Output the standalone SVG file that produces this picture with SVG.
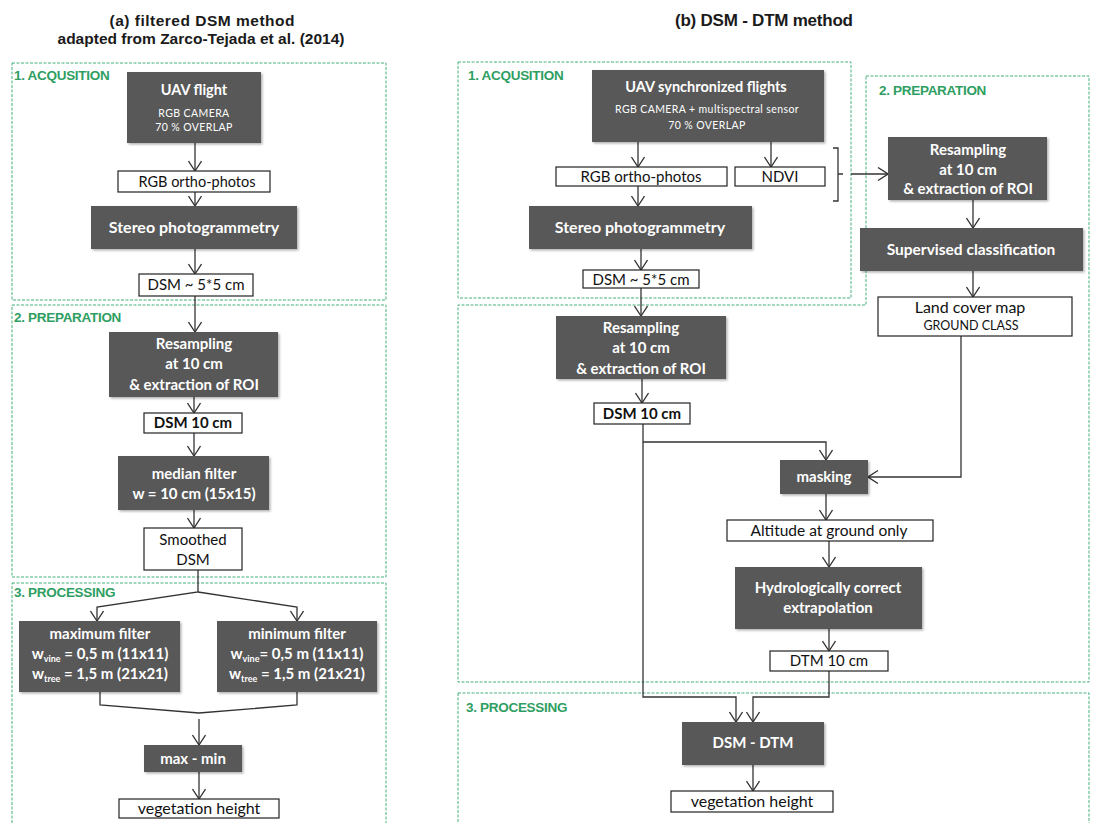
<svg xmlns="http://www.w3.org/2000/svg" width="1093" height="823" viewBox="0 0 1093 823">
  <style>
    .title { font-family: "Liberation Sans", Arial, sans-serif; font-weight: bold; font-size: 15.5px; fill: #1a1a1a; text-anchor: middle; }
    .frame { fill: none; stroke: #47b07c; stroke-width: 1; stroke-dasharray: 3 1.5; }
    .stage { font-family: "Liberation Sans", Arial, sans-serif; font-weight: bold; font-size: 13.5px; fill: #2e9e62; letter-spacing: -0.3px; }
    .dark { fill: #595959; filter: url(#shadow); }
    .light { fill: #ffffff; stroke: #222222; stroke-width: 1.2; }
    .dt { font-family: Lato, "Open Sans", sans-serif; font-weight: bold; font-size: 15px; fill: #ffffff; text-anchor: middle; }
    .ds { font-family: Lato, "Open Sans", sans-serif; font-size: 10.5px; fill: #ffffff; text-anchor: middle; letter-spacing: 0.4px; }
    .lt { font-family: Lato, "Open Sans", sans-serif; font-size: 15px; fill: #111111; text-anchor: middle; }
    .lb { font-family: Lato, "Open Sans", sans-serif; font-weight: bold; font-size: 15px; fill: #111111; text-anchor: middle; }
    .sub { font-size: 9px; }
    .conn { fill: none; stroke: #333333; stroke-width: 1.3; }
    .arr { marker-end: url(#chev); }
  </style>
  <defs>
    <filter id="shadow" x="-10%" y="-10%" width="130%" height="130%">
      <feDropShadow dx="1.5" dy="1.5" stdDeviation="1" flood-color="#000000" flood-opacity="0.3"/>
    </filter>
    <marker id="chev" markerUnits="userSpaceOnUse" viewBox="0 0 12 14" refX="11" refY="7" markerWidth="12" markerHeight="14" orient="auto">
      <path d="M1,0.5 L11,7 L1,13.5" fill="none" stroke="#333333" stroke-width="1.3"/>
    </marker>
  </defs>

  <rect width="1093" height="823" fill="#ffffff"/>

  <!-- headings -->
  <g id="titles">
    <text class="title" x="202" y="26" textLength="185">(a) filtered DSM method</text>
    <text class="title" x="201" y="44" textLength="287">adapted from Zarco-Tejada et al. (2014)</text>
    <text class="title" x="764" y="26" style="font-size:17px" textLength="178">(b) DSM - DTM method</text>
  </g>

  <!-- stage frames -->
  <g id="frames">
    <rect class="frame" x="12" y="63" width="374" height="237"/>
    <rect class="frame" x="12" y="305" width="374" height="272"/>
    <rect class="frame" x="12" y="583" width="374" height="250"/>
    <text class="stage" x="14" y="80">1. ACQUSITION</text>
    <text class="stage" x="14" y="322">2. PREPARATION</text>
    <text class="stage" x="14" y="597">3. PROCESSING</text>

    <rect class="frame" x="458" y="62" width="393" height="236"/>
    <path class="frame" d="M866,76 H1089 V682 H458 V305 H866 Z"/>
    <rect class="frame" x="458" y="693" width="631" height="140"/>
    <text class="stage" x="468" y="80">1. ACQUSITION</text>
    <text class="stage" x="879" y="95">2. PREPARATION</text>
    <text class="stage" x="466" y="712">3. PROCESSING</text>
  </g>

  <!-- connectors -->
  <g id="connectors">
    <!-- (a) -->
    <path class="conn arr" d="M195,143 V171"/>
    <path class="conn arr" d="M195,192 V206"/>
    <path class="conn arr" d="M195,249 V274"/>
    <path class="conn arr" d="M195,296 V332"/>
    <path class="conn arr" d="M194,397 V413"/>
    <path class="conn arr" d="M194,433 V456"/>
    <path class="conn arr" d="M194,510 V528"/>
    <path class="conn arr" d="M198,570 V592 L97,607 V621"/>
    <path class="conn arr" d="M198,592 L297,607 V621"/>
    <path class="conn" d="M100,692 V705 L199,713 L297,705 V692"/>
    <path class="conn arr" d="M199,719 V745"/>
    <path class="conn arr" d="M199,772 V799"/>
    <!-- (b) -->
    <path class="conn arr" d="M638,142 V167"/>
    <path class="conn arr" d="M771,142 V167"/>
    <path class="conn arr" d="M638,186 V206"/>
    <path class="conn" d="M833,148 H838 V201 H833 M838,174 H843"/>
    <path class="conn arr" d="M851,174 H888"/>
    <path class="conn arr" d="M641,249 V270"/>
    <path class="conn arr" d="M641,288 V316"/>
    <path class="conn arr" d="M642,379 V403"/>
    <path class="conn arr" d="M643,424 V697 H736 V722"/>
    <path class="conn arr" d="M643,442 H826 V460"/>
    <path class="conn arr" d="M973,200 V228"/>
    <path class="conn arr" d="M973,271 V297"/>
    <path class="conn arr" d="M961,336 V477 H868"/>
    <path class="conn arr" d="M826,494 V520"/>
    <path class="conn arr" d="M829,541 V567"/>
    <path class="conn arr" d="M829,629 V651"/>
    <path class="conn arr" d="M829,671 V697 H753 V722"/>
    <path class="conn arr" d="M753,765 V791"/>
  </g>

  <!-- (a) filtered DSM method -->
  <g id="a-uav">
    <rect class="dark" x="127" y="72" width="134" height="71"/>
    <text class="dt" x="194" y="95" style="font-size:14.5px">UAV flight</text>
    <text class="ds" x="194" y="117">RGB CAMERA</text>
    <text class="ds" x="194" y="131">70 % OVERLAP</text>
  </g>
  <g id="a-rgb">
    <rect class="light" x="118" y="171" width="152" height="21"/>
    <text class="lt" x="197" y="187" style="font-size:14.5px">RGB ortho-photos</text>
  </g>
  <g id="a-stereo">
    <rect class="dark" x="91" y="206" width="206" height="43"/>
    <text class="dt" x="194" y="233" style="font-size:16px">Stereo photogrammetry</text>
  </g>
  <g id="a-dsm5">
    <rect class="light" x="139" y="274" width="114" height="22"/>
    <text class="lt" x="196" y="290">DSM ~ 5*5 cm</text>
  </g>
  <g id="a-resampling">
    <rect class="dark" x="109" y="332" width="169" height="65"/>
    <text class="dt" x="194" y="349">Resampling</text>
    <text class="dt" x="194" y="369">at 10 cm</text>
    <text class="dt" x="194" y="390">&amp; extraction of ROI</text>
  </g>
  <g id="a-dsm10">
    <rect class="light" x="144" y="413" width="98" height="20"/>
    <text class="lb" x="193" y="428">DSM 10 cm</text>
  </g>
  <g id="a-median">
    <rect class="dark" x="118" y="456" width="151" height="54"/>
    <text class="dt" x="194" y="479">median filter</text>
    <text class="dt" x="194" y="499">w = 10 cm (15x15)</text>
  </g>
  <g id="a-smoothed">
    <rect class="light" x="144" y="528" width="98" height="42"/>
    <text class="lt" x="193" y="545">Smoothed</text>
    <text class="lt" x="193" y="565">DSM</text>
  </g>
  <g id="a-max">
    <rect class="dark" x="19" y="621" width="161" height="71"/>
    <text class="dt" x="100" y="639">maximum filter</text>
    <text class="dt" x="100" y="659">w<tspan class="sub" dy="3">vine</tspan><tspan dy="-3"> = 0,5 m (11x11)</tspan></text>
    <text class="dt" x="100" y="679">w<tspan class="sub" dy="3">tree</tspan><tspan dy="-3"> = 1,5 m (21x21)</tspan></text>
  </g>
  <g id="a-min">
    <rect class="dark" x="217" y="621" width="160" height="71"/>
    <text class="dt" x="297" y="639">minimum filter</text>
    <text class="dt" x="297" y="659">w<tspan class="sub" dy="3">vine</tspan><tspan dy="-3">= 0,5 m (11x11)</tspan></text>
    <text class="dt" x="297" y="679">w<tspan class="sub" dy="3">tree</tspan><tspan dy="-3"> = 1,5 m (21x21)</tspan></text>
  </g>
  <g id="a-maxmin">
    <rect class="dark" x="144" y="745" width="98" height="27"/>
    <text class="dt" x="193" y="764">max - min</text>
  </g>
  <g id="a-vegheight">
    <rect class="light" x="119" y="799" width="160" height="19"/>
    <text class="lt" x="199" y="814" style="font-size:16px">vegetation height</text>
  </g>

  <!-- (b) DSM - DTM method -->
  <g id="b-uav">
    <rect class="dark" x="592" y="70" width="232" height="72"/>
    <text class="dt" x="706" y="92" style="font-size:14.5px">UAV synchronized flights</text>
    <text class="ds" x="707" y="113">RGB CAMERA + multispectral sensor</text>
    <text class="ds" x="707" y="129">70 % OVERLAP</text>
  </g>
  <g id="b-rgb">
    <rect class="light" x="556" y="167" width="171" height="19"/>
    <text class="lt" x="641" y="182">RGB ortho-photos</text>
  </g>
  <g id="b-ndvi">
    <rect class="light" x="735" y="167" width="90" height="19"/>
    <text class="lt" x="780" y="182">NDVI</text>
  </g>
  <g id="b-stereo">
    <rect class="dark" x="529" y="206" width="223" height="43"/>
    <text class="dt" x="640" y="233" style="font-size:16px">Stereo photogrammetry</text>
  </g>
  <g id="b-dsm5">
    <rect class="light" x="583" y="270" width="116" height="18"/>
    <text class="lt" x="641" y="285">DSM ~ 5*5 cm</text>
  </g>
  <g id="b-resampling-dsm">
    <rect class="dark" x="556" y="316" width="170" height="63"/>
    <text class="dt" x="641" y="333">Resampling</text>
    <text class="dt" x="641" y="353">at 10 cm</text>
    <text class="dt" x="641" y="374">&amp; extraction of ROI</text>
  </g>
  <g id="b-dsm10">
    <rect class="light" x="594" y="403" width="96" height="21"/>
    <text class="lb" x="642" y="419">DSM 10 cm</text>
  </g>
  <g id="b-resampling-ndvi">
    <rect class="dark" x="888" y="137" width="159" height="63"/>
    <text class="dt" x="968" y="155">Resampling</text>
    <text class="dt" x="968" y="175">at 10 cm</text>
    <text class="dt" x="968" y="194">&amp; extraction of ROI</text>
  </g>
  <g id="b-classification">
    <rect class="dark" x="860" y="228" width="223" height="43"/>
    <text class="dt" x="971" y="255" style="font-size:15.5px">Supervised classification</text>
  </g>
  <g id="b-landcover">
    <rect class="light" x="878" y="297" width="194" height="39"/>
    <text class="lt" x="970" y="313" style="font-size:16px">Land cover map</text>
    <text class="lt" x="971" y="330" style="font-size:12.5px">GROUND CLASS</text>
  </g>
  <g id="b-masking">
    <rect class="dark" x="780" y="460" width="88" height="34"/>
    <text class="dt" x="824" y="482">masking</text>
  </g>
  <g id="b-altitude">
    <rect class="light" x="727" y="520" width="206" height="21"/>
    <text class="lt" x="829" y="536" style="font-size:15.5px">Altitude at ground only</text>
  </g>
  <g id="b-hydro">
    <rect class="dark" x="735" y="567" width="187" height="62"/>
    <text class="dt" x="828" y="593">Hydrologically correct</text>
    <text class="dt" x="828" y="613">extrapolation</text>
  </g>
  <g id="b-dtm10">
    <rect class="light" x="770" y="651" width="118" height="20"/>
    <text class="lt" x="829" y="666">DTM 10 cm</text>
  </g>
  <g id="b-dsmdtm">
    <rect class="dark" x="682" y="722" width="142" height="43"/>
    <text class="dt" x="753" y="748">DSM - DTM</text>
  </g>
  <g id="b-vegheight">
    <rect class="light" x="671" y="791" width="162" height="21"/>
    <text class="lt" x="752" y="807" style="font-size:16px">vegetation height</text>
  </g>
</svg>
